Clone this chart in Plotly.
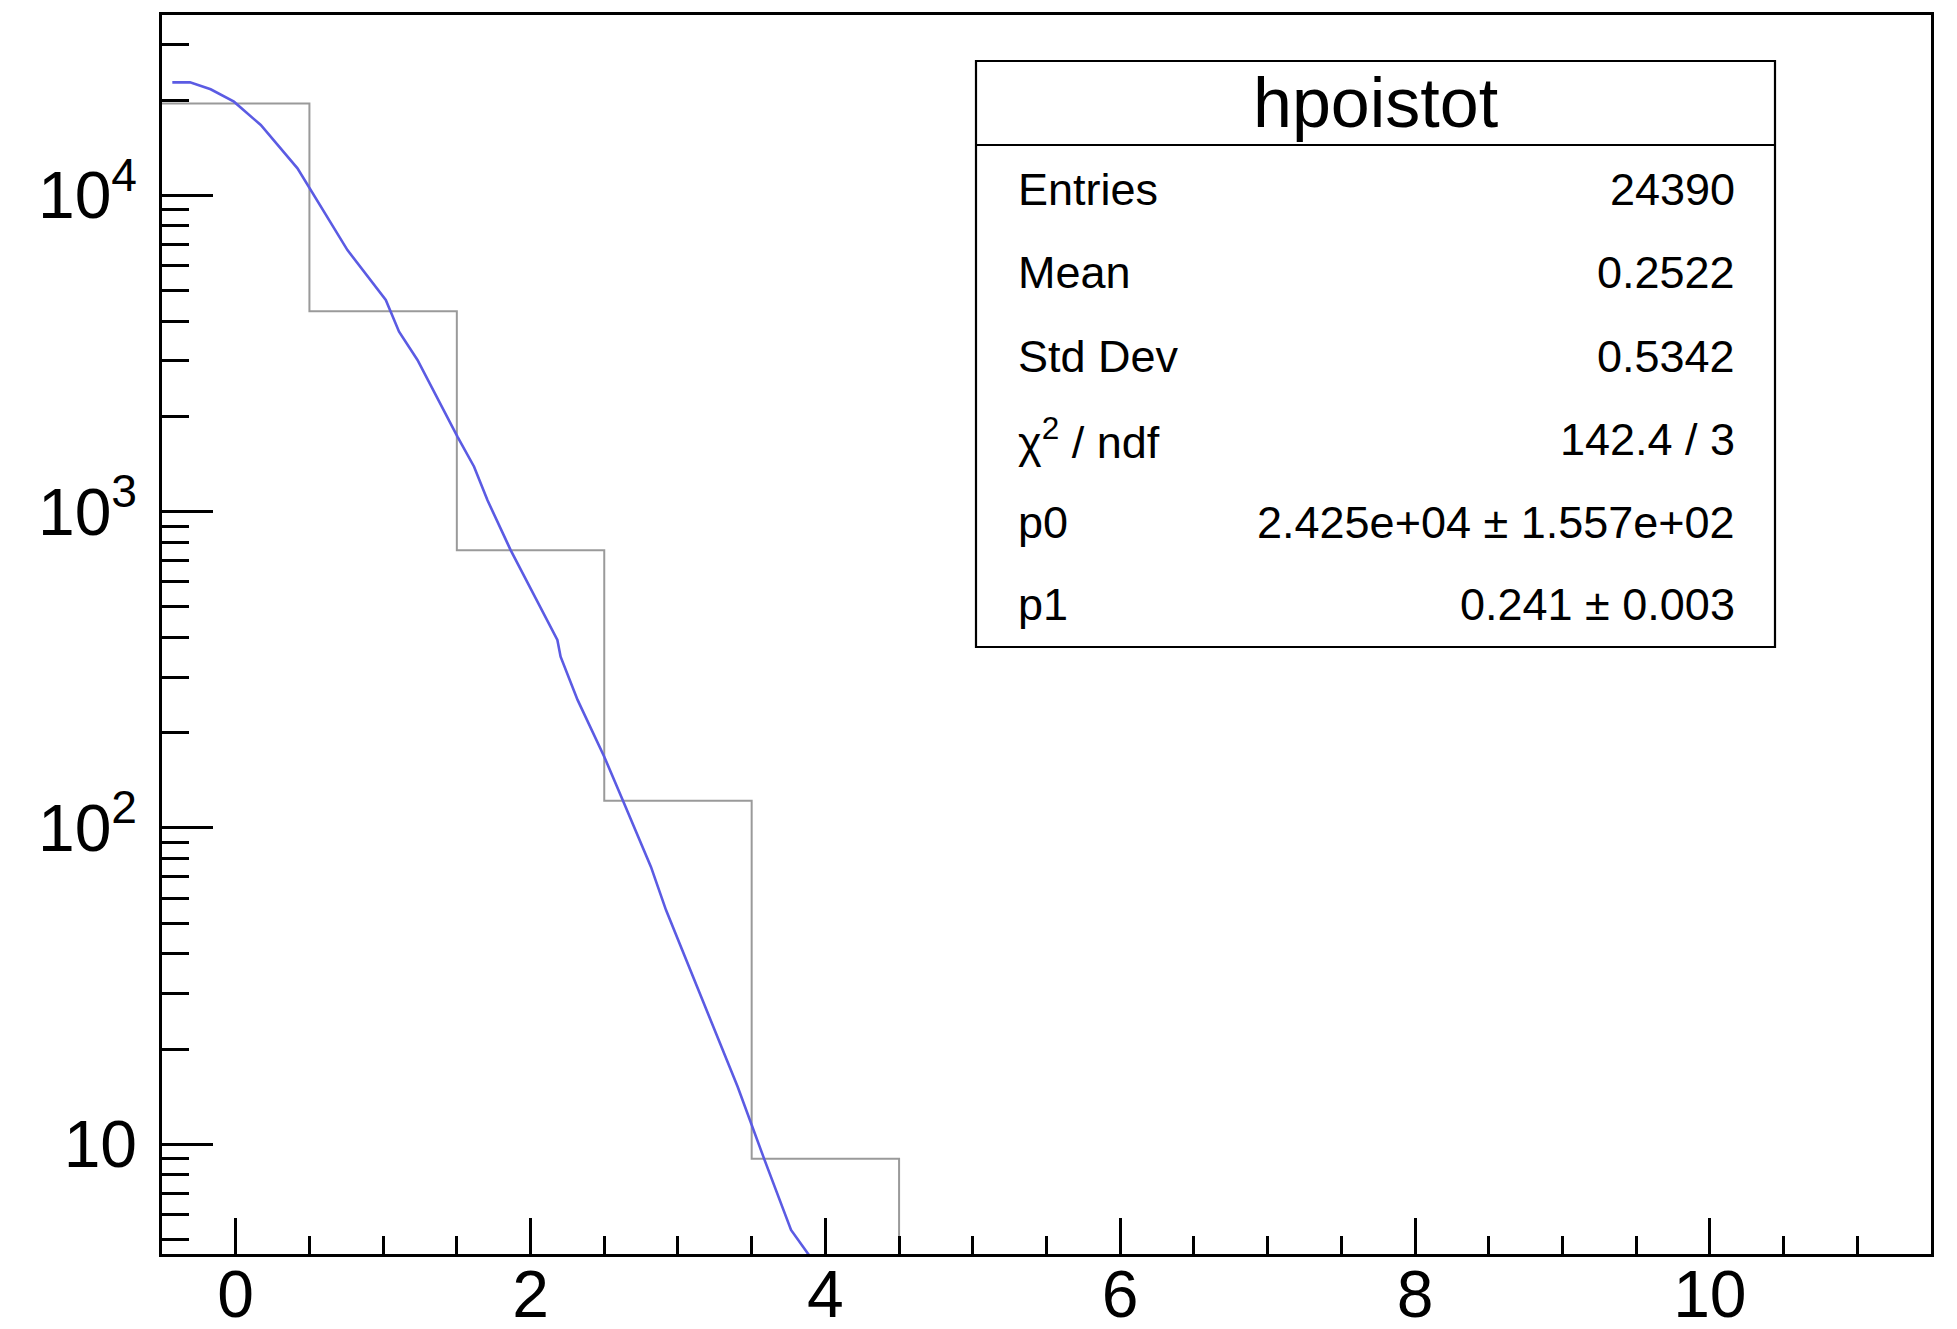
import plotly.graph_objects as go

# ---------------- data ----------------
bin_centers = [0, 1, 2, 3, 4]
bin_counts = [19500, 4300, 755, 122, 9]
bin_width = 1.0

fit_x = [-0.430, -0.310, -0.170, -0.012, 0.170, 0.419, 0.758, 1.018, 1.108, 1.233,
         1.505, 1.617, 1.708, 1.865, 2.182, 2.204, 2.319, 2.500, 2.625, 2.817,
         2.919, 3.405, 3.586, 3.767, 3.891]
fit_y = [22750, 22750, 21630, 19770, 16680, 12170, 6713, 4667, 3707, 3017,
         1724, 1387, 1086, 756, 393, 348, 254, 168, 122.5, 75.3,
         55.0, 15.2, 8.96, 5.36, 4.45]

stat_labels = ["Entries", "Mean", "Std Dev", "χ<sup>2</sup> / ndf", "p0", "p1"]
stat_values = ["24390", "0.2522", "0.5342", "142.4 / 3",
               "2.425e+04 ± 1.557e+02", "0.241 ± 0.003"]
stats_title = "hpoistot"

x_major = [0, 2, 4, 6, 8, 10]
y_major = [10, 100, 1000, 10000]
y_major_text = ["10", "10<sup>2</sup>", "10<sup>3</sup>", "10<sup>4</sup>"]
y_minor = [5, 6, 7, 8, 9, 20, 30, 40, 50, 60, 70, 80, 90,
           200, 300, 400, 500, 600, 700, 800, 900,
           2000, 3000, 4000, 5000, 6000, 7000, 8000, 9000, 20000, 30000]

# ---------------- geometry ----------------
W, H = 1957, 1329
L, R, T, B = 162, 1931, 15, 1254
FONT = "Liberation Sans"


def px(xp):
    return (xp - L) / (R - L)


def py(yp):
    return (B - yp) / (B - T)


# histogram outline as a step line
edges_x = [c - bin_width / 2 for c in bin_centers] + [bin_centers[-1] + bin_width / 2]
edges_y = bin_counts + [1]

fig = go.Figure()
fig.add_trace(go.Scatter(x=edges_x, y=edges_y, mode="lines", line_shape="hv",
                         line=dict(color="#9a9a9a", width=2), hoverinfo="skip"))
fig.add_trace(go.Scatter(x=fit_x, y=fit_y, mode="lines",
                         line=dict(color="#5b5be3", width=2.6), hoverinfo="skip"))

fig.update_layout(
    width=W, height=H,
    margin=dict(l=L, r=W - R, t=T, b=H - B, autoexpand=False),
    paper_bgcolor="white", plot_bgcolor="white",
    showlegend=False,
    font=dict(family=FONT, color="black"),
)
fig.update_xaxes(
    range=[-0.5, 11.5], showgrid=False, zeroline=False, automargin=False,
    showline=True, linecolor="black", linewidth=2.5, mirror=True,
    ticks="inside", tickvals=x_major, ticklen=36, tickwidth=2.5, tickcolor="black",
    tickfont=dict(size=66, family=FONT, color="black"),
    minor=dict(ticks="inside", dtick=0.5, tick0=0, ticklen=18, tickwidth=2.5,
               tickcolor="black", showgrid=False),
    ticklabelstandoff=-19,
)
fig.update_yaxes(
    type="log", range=[0.6532, 4.570], showgrid=False, zeroline=False, automargin=False,
    showline=True, linecolor="black", linewidth=2.5, mirror=True,
    ticks="inside", tickvals=y_major, ticktext=y_major_text,
    ticklen=51, tickwidth=2.5, tickcolor="black",
    tickfont=dict(size=66, family=FONT, color="black"),
    minor=dict(ticks="inside", tickvals=y_minor, ticklen=27, tickwidth=2.5,
               tickcolor="black", showgrid=False),
    ticklabelstandoff=9,
)

# stats box
bx0, bx1, by0, by1, bsep = 976, 1775, 61, 647, 145
fig.add_shape(type="rect", xref="paper", yref="paper",
              x0=px(bx0), x1=px(bx1), y0=py(by1), y1=py(by0),
              line=dict(color="black", width=2.2), fillcolor="white", layer="above")
fig.add_shape(type="line", xref="paper", yref="paper",
              x0=px(bx0), x1=px(bx1), y0=py(bsep), y1=py(bsep),
              line=dict(color="black", width=2.2), layer="above")
fig.add_annotation(xref="paper", yref="paper", x=px((bx0 + bx1) / 2), y=py(103),
                   text=stats_title, showarrow=False, xanchor="center", yanchor="middle",
                   font=dict(size=70, family=FONT, color="black"))
row_y = [189, 273, 356, 439, 522, 604]
for lab, val, yy in zip(stat_labels, stat_values, row_y):
    fig.add_annotation(xref="paper", yref="paper", x=px(1016), y=py(yy), text=lab,
                       showarrow=False, xanchor="left", yanchor="middle",
                       font=dict(size=45, family=FONT, color="black"))
    fig.add_annotation(xref="paper", yref="paper", x=px(1737), y=py(yy), text=val,
                       showarrow=False, xanchor="right", yanchor="middle",
                       font=dict(size=45, family=FONT, color="black"))

fig.write_html("out.html")
